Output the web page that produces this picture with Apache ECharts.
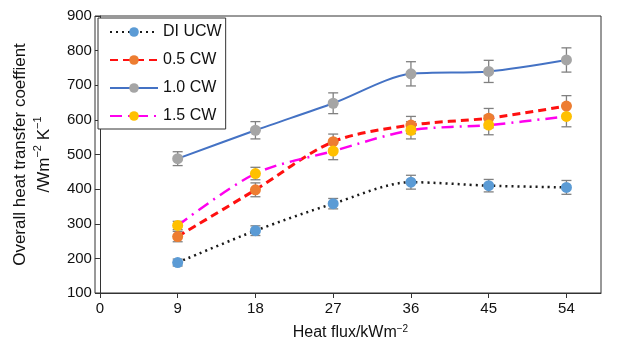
<!DOCTYPE html>
<html>
<head>
<meta charset="UTF-8">
<script src="https://cdn.jsdelivr.net/npm/echarts@6.0.0/dist/echarts.min.js"></script>
<style>html,body{margin:0;padding:0;background:#fff;}</style>
</head>
<body>
<div id="main" style="width:634px;height:347px;"></div>
<script>
// data
var heatFlux = [9, 18, 27, 36, 45, 54];
var xTicks = [0, 9, 18, 27, 36, 45, 54];
var diUcw = [188, 280, 358, 420, 410, 405];
var diUcwErr = [10, 14, 15, 20, 18, 20];
var cw05 = [263, 398, 537, 585, 605, 640];
var cw05Err = [15, 20, 22, 25, 28, 30];
var cw10 = [488, 570, 648, 733, 740, 773];
var cw10Err = [20, 25, 30, 35, 32, 35];
var cw15 = [295, 445, 510, 570, 585, 610];
var cw15Err = [12, 18, 25, 25, 28, 30];

var font = 'Liberation Sans, Arial, sans-serif';
var myChart = echarts.init(document.getElementById('main'));

function pairs(vals) {
    return heatFlux.map(function (x, i) { return [x, vals[i]]; });
}
function errData(vals, errs) {
    return heatFlux.map(function (x, i) { return [x, vals[i] - errs[i], vals[i] + errs[i]]; });
}
function errSeries(vals, errs) {
    return {
        type: 'custom',
        z: 1,
        silent: true,
        data: errData(vals, errs),
        renderItem: function (params, api) {
            var lo = api.coord([api.value(0), api.value(1)]);
            var hi = api.coord([api.value(0), api.value(2)]);
            var w = 5;
            var st = { stroke: '#808080', lineWidth: 1.3 };
            return {
                type: 'group',
                children: [
                    { type: 'line', shape: { x1: lo[0], y1: lo[1], x2: hi[0], y2: hi[1] }, style: st },
                    { type: 'line', shape: { x1: lo[0] - w, y1: lo[1], x2: lo[0] + w, y2: lo[1] }, style: st },
                    { type: 'line', shape: { x1: hi[0] - w, y1: hi[1], x2: hi[0] + w, y2: hi[1] }, style: st }
                ]
            };
        }
    };
}
function lineSeries(name, vals, lineColor, lineType, width, dotColor) {
    return {
        name: name,
        type: 'line',
        z: 3,
        smooth: 0.3,
        data: pairs(vals),
        symbol: 'circle',
        symbolSize: 11,
        showAllSymbol: true,
        lineStyle: { color: lineColor, type: lineType, width: width },
        itemStyle: { color: dotColor, borderWidth: 0 }
    };
}

var option = {
    animation: false,
    grid: { left: 95, right: 33, top: 16, bottom: 54 },
    legend: {
        left: 98, top: 18,
        orient: 'vertical',
        backgroundColor: '#fff',
        borderColor: '#333',
        borderWidth: 1,
        padding: [6, 4, 5, 11],
        itemWidth: 48,
        itemHeight: 12,
        itemGap: 12,
        textStyle: { fontFamily: font, fontSize: 16, color: '#111' },
        data: ['DI UCW', '0.5 CW', '1.0 CW', '1.5 CW']
    },
    xAxis: {
        type: 'value',
        min: 0, max: 58,
        name: 'Heat flux/kWm{sup|−2}',
        nameLocation: 'middle',
        nameGap: 31,
        nameTextStyle: {
            fontFamily: font, fontSize: 16, color: '#111',
            rich: { sup: { fontFamily: font, fontSize: 10, color: '#111', verticalAlign: 'top', padding: [0, 0, 8, 0] } }
        },
        axisLine: { show: true, lineStyle: { color: '#333', width: 1 } },
        axisTick: { show: true, customValues: xTicks, length: 5, lineStyle: { color: '#333' } },
        axisLabel: { customValues: xTicks, fontFamily: font, fontSize: 15, color: '#111', margin: 8 },
        splitLine: { show: false }
    },
    yAxis: {
        type: 'value',
        min: 100, max: 900, interval: 100,
        name: 'Overall heat transfer coeffient\n/Wm{sup|−2} K{sup|−1}',
        nameLocation: 'middle',
        nameGap: 43,
        nameTextStyle: {
            fontFamily: font, fontSize: 17, color: '#111', lineHeight: 24,
            rich: { sup: { fontFamily: font, fontSize: 11, color: '#111', verticalAlign: 'top', padding: [0, 0, 8, 0] } }
        },
        axisLine: { show: true, lineStyle: { color: '#333', width: 1 } },
        axisTick: { show: true, length: 5, lineStyle: { color: '#333' } },
        axisLabel: { fontFamily: font, fontSize: 15, color: '#111', margin: 8 },
        splitLine: { show: false }
    },
    graphic: [{
        type: 'rect',
        shape: { x: 95, y: 16, width: 506, height: 277 },
        style: { fill: 'none', stroke: '#333', lineWidth: 1 },
        silent: true,
        z: 0
    }],
    series: [
        errSeries(diUcw, diUcwErr),
        errSeries(cw05, cw05Err),
        errSeries(cw10, cw10Err),
        errSeries(cw15, cw15Err),
        lineSeries('DI UCW', diUcw, '#1a1a1a', [2, 4], 2.5, '#5B9BD5'),
        lineSeries('0.5 CW', cw05, '#FF1010', [8, 5], 3, '#ED7D31'),
        lineSeries('1.0 CW', cw10, '#4472C4', 'solid', 2, '#A5A5A5'),
        lineSeries('1.5 CW', cw15, '#FF00EE', [12, 6, 2, 6], 2.5, '#FFC000')
    ]
};

myChart.setOption(option);
</script>
</body>
</html>
